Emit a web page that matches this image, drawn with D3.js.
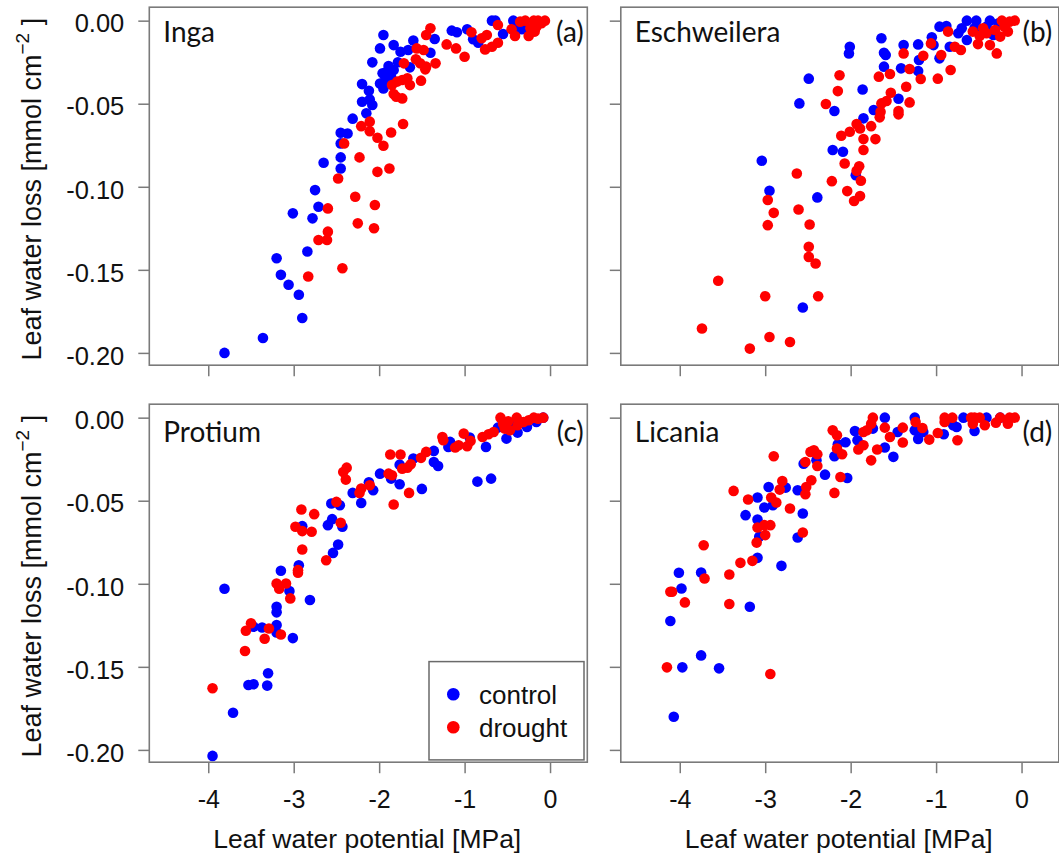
<!DOCTYPE html>
<html>
<head>
<meta charset="utf-8">
<script src="https://cdn.jsdelivr.net/npm/d3@7"></script>
<style>
  body { margin: 0; background: #fff; }
  text { font-family: "Liberation Sans", Arial, sans-serif; fill: #111; }
  .tag { font-family: Lato, "Open Sans", sans-serif; }
</style>
</head>
<body>
<svg id="chart" width="1059" height="860"></svg>
<script>
// Four species, control vs drought
const species = ["Inga", "Eschweilera", "Protium", "Licania"];
const panelTags = ["(a)", "(b)", "(c)", "(d)"];
const groups = ["control", "drought"];
const groupColors = ["#0000ff", "#ff0000"];
const xTicks = [-4, -3, -2, -1, 0];
const xTickLabels = ["-4", "-3", "-2", "-1", "0"];
const yTicks = [0, -0.05, -0.1, -0.15, -0.2];
const yTickLabels = ["0.00", "-0.05", "-0.10", "-0.15", "-0.20"];

// Each point: [leaf water potential (MPa), leaf water loss (mmol cm-2)]
const ingaControl = [
  [-3.81,-0.200],[-3.36,-0.191],[-2.90,-0.179],[-2.94,-0.165],[-3.06,-0.159],[-3.15,-0.153],
  [-3.20,-0.143],[-2.84,-0.139],[-3.01,-0.116],[-2.78,-0.119],[-2.71,-0.112],[-2.75,-0.102],
  [-2.65,-0.0855],[-2.45,-0.089],[-2.45,-0.0823],[-2.45,-0.0739],[-2.45,-0.0675],[-2.37,-0.0679],
  [-2.31,-0.059],[-2.15,-0.0558],[-2.20,-0.0488],[-2.11,-0.0474],[-2.08,-0.0508],[-2.12,-0.0422],
  [-2.20,-0.0382],[-1.99,-0.0378],[-1.95,-0.0408],[-1.96,-0.0317],[-1.91,-0.0307],[-1.89,-0.0273],
  [-1.83,-0.0297],[-2.08,-0.0251],[-1.99,-0.0167],[-1.95,-0.0086],[-1.83,-0.0147],[-1.75,-0.0187],
  [-1.64,-0.0281],[-1.66,-0.0177],[-1.60,-0.0120],[-1.40,-0.0193],[-1.35,-0.0110],[-1.15,-0.0060],
  [-1.09,-0.0070],[-0.97,-0.0052],[-0.90,-0.0112],[-0.84,-0.0133],[-0.68,0.000],[-0.64,0.000],
  [-0.55,-0.0080],[-0.43,0.000],[-0.39,-0.0036],[-0.33,-0.0052],[-0.27,-0.0046],[-1.86,-0.034],
  [-1.78,-0.0250],[-1.93,-0.0360]
];
const ingaDrought = [
  [-2.43,-0.149],[-2.83,-0.154],[-2.71,-0.132],[-2.61,-0.132],[-2.60,-0.127],[-2.60,-0.113],
  [-2.25,-0.122],[-2.06,-0.125],[-2.28,-0.106],[-2.05,-0.111],[-2.48,-0.095],[-2.23,-0.0823],
  [-2.02,-0.091],[-1.88,-0.089],[-2.41,-0.0739],[-2.21,-0.0635],[-2.11,-0.0608],[-2.11,-0.0665],
  [-2.02,-0.0705],[-1.95,-0.0753],[-1.86,-0.0673],[-1.72,-0.0622],[-1.83,-0.0442],[-1.80,-0.0458],
  [-1.73,-0.0468],[-1.85,-0.0388],[-1.79,-0.0367],[-1.73,-0.0357],[-1.67,-0.0347],[-1.64,-0.0388],
  [-1.51,-0.0361],[-1.71,-0.0257],[-1.57,-0.0233],[-1.52,-0.0257],[-1.45,-0.0277],[-1.46,-0.0293],
  [-1.34,-0.0257],[-1.56,-0.0167],[-1.48,-0.0177],[-1.45,-0.0086],[-1.40,-0.0046],[-1.21,-0.0143],
  [-1.10,-0.0167],[-1.00,-0.0217],[-0.92,-0.0070],[-0.80,-0.0106],[-0.74,-0.0086],[-0.76,-0.0173],
  [-0.68,-0.0157],[-0.61,-0.0133],[-0.61,-0.0026],[-0.45,-0.0052],[-0.41,-0.0092],[-0.35,-0.0006],
  [-0.29,0.000],[-0.23,-0.0046],[-0.25,-0.0092],[-0.18,-0.0066],[-0.14,0.000],[-0.06,0.000],
  [-0.16,-0.0036],[-0.19,0.000],[-0.10,-0.0016]
];
const eschweileraControl = [
  [-2.56,-0.1727],[-3.04,-0.0843],[-2.95,-0.1024],[-2.39,-0.1064],[-2.60,-0.0498],[-2.49,-0.0349],
  [-2.19,-0.0544],[-2.21,-0.0779],[-2.09,-0.0789],[-2.01,-0.0157],[-2.02,-0.0197],[-1.86,-0.0414],
  [-1.85,-0.0588],[-1.73,-0.0538],[-1.94,-0.093],[-1.64,-0.0106],[-1.61,-0.0193],[-1.59,-0.0207],
  [-1.61,-0.0277],[-1.44,-0.047],[-1.41,-0.0287],[-1.38,-0.0147],[-1.21,-0.0143],[-1.20,-0.0237],
  [-1.21,-0.0303],[-1.05,-0.0100],[-1.03,-0.0147],[-0.96,-0.0036],[-0.88,-0.0032],[-0.96,-0.0227],
  [-0.84,-0.0157],[-0.74,-0.0076],[-0.64,0.000],[-0.53,0.000],[-0.64,-0.0116],[-0.55,-0.0046],
  [-0.37,0.000],[-0.41,-0.0036],[-0.33,-0.0086],[-0.27,-0.0016],[-0.70,-0.0046]
];
const eschweileraDrought = [
  [-3.18,-0.1974],[-3.74,-0.1853],[-2.95,-0.1904],[-2.71,-0.1934],[-3.55,-0.1566],[-3.00,-0.1659],
  [-2.38,-0.1659],[-2.41,-0.1462],[-2.49,-0.1422],[-2.49,-0.1361],[-2.48,-0.1227],[-2.61,-0.1137],
  [-2.97,-0.1231],[-2.90,-0.1157],[-2.97,-0.108],[-2.63,-0.092],[-2.22,-0.0966],[-2.04,-0.1026],
  [-1.96,-0.1086],[-1.89,-0.1056],[-1.88,-0.0964],[-1.93,-0.0904],[-1.90,-0.0876],[-2.07,-0.086],
  [-1.85,-0.0779],[-1.85,-0.0713],[-1.71,-0.0713],[-2.11,-0.0693],[-2.01,-0.0669],[-1.93,-0.0622],
  [-1.89,-0.0649],[-1.76,-0.0635],[-1.66,-0.0582],[-1.65,-0.0548],[-1.64,-0.0498],[-1.58,-0.0484],
  [-1.53,-0.0434],[-1.44,-0.0544],[-1.44,-0.0564],[-1.31,-0.0492],[-1.35,-0.0398],[-1.67,-0.0337],
  [-1.54,-0.0321],[-2.29,-0.0502],[-2.15,-0.0424],[-2.13,-0.0329],[-1.38,-0.0197],[-1.31,-0.0291],
  [-1.18,-0.0351],[-1.15,-0.0211],[-1.06,-0.0137],[-0.98,-0.0349],[-0.94,-0.0207],[-0.83,-0.0297],
  [-0.86,-0.0066],[-0.78,-0.0157],[-0.71,-0.0177],[-0.57,-0.0066],[-0.51,-0.0141],[-0.41,-0.0076],
  [-0.37,-0.0147],[-0.29,-0.0197],[-0.25,-0.0096],[-0.20,-0.0036],[-0.14,-0.0006],[-0.08,0.000],
  [-0.23,0.000],[-0.31,-0.0056],[-0.45,-0.0046],[-0.16,-0.0066],[-0.49,-0.0092]
];
const protiumControl = [
  [-3.95,-0.2036],[-3.71,-0.1776],[-3.81,-0.1030],[-3.53,-0.1609],[-3.47,-0.1605],[-3.31,-0.1613],
  [-3.30,-0.1539],[-3.47,-0.1259],[-3.37,-0.1263],[-3.20,-0.1248],[-3.20,-0.1293],[-3.01,-0.1327],
  [-3.20,-0.1138],[-3.20,-0.1172],[-3.15,-0.0922],[-3.05,-0.1044],[-2.81,-0.1098],[-2.94,-0.0888],
  [-2.90,-0.0653],[-2.54,-0.0814],[-2.48,-0.0764],[-2.60,-0.0647],[-2.55,-0.0611],[-2.43,-0.0657],
  [-2.56,-0.0517],[-2.46,-0.0527],[-2.31,-0.0453],[-2.21,-0.0513],[-2.12,-0.0389],[-2.07,-0.0437],
  [-1.99,-0.0337],[-1.86,-0.0367],[-1.76,-0.0401],[-1.76,-0.0283],[-1.60,-0.0246],[-1.50,-0.0429],
  [-1.36,-0.0200],[-1.36,-0.0267],[-1.31,-0.0291],[-1.19,-0.0176],[-1.17,-0.0146],[-0.94,-0.0120],
  [-0.85,-0.0385],[-0.69,-0.0367],[-0.75,-0.0176],[-0.61,-0.0060],[-0.51,-0.0126],[-0.38,-0.0090],
  [-0.27,-0.0056],[-0.16,-0.0026],[-0.08,0.000],[-0.43,-0.0036]
];
const protiumDrought = [
  [-3.95,-0.1629],[-3.57,-0.1405],[-3.56,-0.1283],[-3.50,-0.1238],[-3.34,-0.1331],[-3.29,-0.1269],
  [-3.15,-0.1305],[-3.20,-0.0998],[-3.17,-0.1030],[-3.09,-0.0998],[-3.04,-0.1088],[-2.95,-0.0934],
  [-2.95,-0.0918],[-2.90,-0.0794],[-2.98,-0.0657],[-2.90,-0.0683],[-2.79,-0.0687],[-2.91,-0.0553],
  [-2.76,-0.0581],[-2.62,-0.0858],[-2.50,-0.0507],[-2.45,-0.0633],[-2.42,-0.0327],[-2.38,-0.0301],
  [-2.39,-0.0373],[-2.23,-0.0453],[-2.21,-0.0427],[-2.11,-0.0407],[-1.89,-0.0337],[-1.85,-0.0347],
  [-1.83,-0.0523],[-1.87,-0.0222],[-1.75,-0.0222],[-1.73,-0.0307],[-1.67,-0.0301],[-1.63,-0.0281],
  [-1.65,-0.0453],[-1.51,-0.0242],[-1.45,-0.0206],[-1.26,-0.0116],[-1.25,-0.0136],[-1.11,-0.0180],
  [-1.07,-0.0166],[-1.01,-0.0096],[-0.97,-0.0172],[-0.93,-0.0140],[-0.79,-0.0116],[-0.72,-0.0100],
  [-0.66,-0.0086],[-0.58,0.000],[-0.55,-0.0036],[-0.53,-0.0066],[-0.49,-0.0022],[-0.39,0.000],
  [-0.38,-0.0046],[-0.31,-0.0026],[-0.25,-0.0016],[-0.19,0.000],[-0.14,-0.0006],[-0.08,0.000],
  [-0.47,-0.0076]
];
const licaniaControl = [
  [-4.07,-0.180],[-4.11,-0.1224],[-3.97,-0.1503],[-4.01,-0.0934],[-3.98,-0.1028],[-3.75,-0.1431],
  [-3.54,-0.1509],[-3.75,-0.0932],[-3.18,-0.1138],[-2.81,-0.0892],[-3.09,-0.0844],[-3.23,-0.0587],
  [-3.09,-0.0481],[-3.09,-0.0613],[-3.07,-0.0717],[-3.01,-0.0541],[-2.91,-0.0527],[-2.96,-0.0417],
  [-2.76,-0.0421],[-2.62,-0.0437],[-2.62,-0.0721],[-2.56,-0.0577],[-2.55,-0.0277],[-2.40,-0.0257],
  [-2.30,-0.0343],[-2.19,-0.0232],[-2.15,-0.0160],[-2.06,-0.0148],[-2.04,-0.0363],[-1.95,-0.0080],
  [-1.92,-0.0136],[-1.74,-0.0066],[-1.60,0.000],[-1.60,-0.0180],[-1.50,-0.0236],[-1.45,-0.0086],
  [-1.25,0.000],[-1.25,-0.0076],[-1.21,-0.0128],[-1.15,-0.0086],[-0.91,-0.0100],[-0.80,-0.0046],
  [-0.76,-0.0056],[-0.68,0.000],[-0.55,-0.0080],[-0.41,0.000],[-0.25,0.000]
];
const licaniaDrought = [
  [-4.15,-0.1503],[-2.94,-0.1543],[-4.11,-0.1048],[-4.09,-0.1048],[-3.94,-0.1112],[-3.42,-0.1122],
  [-3.71,-0.0968],[-3.72,-0.0768],[-3.42,-0.0944],[-3.29,-0.0874],[-3.15,-0.0862],[-3.10,-0.0752],
  [-3.09,-0.0661],[-3.01,-0.0647],[-2.94,-0.0647],[-3.00,-0.0707],[-3.20,-0.0493],[-3.37,-0.0441],
  [-2.93,-0.0481],[-2.87,-0.0511],[-2.83,-0.0433],[-2.80,-0.0381],[-2.71,-0.0547],[-2.90,-0.0232],
  [-2.56,-0.0691],[-2.53,-0.0461],[-2.52,-0.0417],[-2.46,-0.0377],[-2.53,-0.0267],[-2.47,-0.0206],
  [-2.43,-0.0196],[-2.39,-0.0220],[-2.39,-0.0291],[-2.19,-0.0453],[-2.12,-0.0357],[-2.21,-0.0076],
  [-2.16,-0.0106],[-2.16,-0.0186],[-2.10,-0.0220],[-1.91,-0.0192],[-1.85,-0.0166],[-1.85,-0.0086],
  [-1.81,-0.0076],[-1.76,-0.0036],[-1.74,0.000],[-1.76,-0.0257],[-1.69,-0.0192],[-1.60,-0.0060],
  [-1.54,-0.0116],[-1.39,-0.0060],[-1.39,-0.0150],[-1.24,-0.0026],[-1.16,-0.0062],[-1.08,-0.0132],
  [-0.98,-0.0092],[-0.90,0.000],[-0.90,-0.0026],[-0.81,0.000],[-0.75,-0.0136],[-0.59,0.000],
  [-0.55,0.000],[-0.57,-0.0036],[-0.43,-0.0046],[-0.30,-0.0030],[-0.25,0.000],[-0.16,-0.0036],
  [-0.14,0.000],[-0.08,0.000],[-0.49,0.000]
];

const seriesBySpecies = [
  [ingaControl, ingaDrought],
  [eschweileraControl, eschweileraDrought],
  [protiumControl, protiumDrought],
  [licaniaControl, licaniaDrought]
];

// ---- layout ----
const svg = d3.select("#chart");
const frameColor = "#7a7a7a";
const panelW = 438, panelH = 358;
const colLeft = [149.3, 620.8];
const rowTop = [7.2, 404.2];
const xDomain = [-4.69, 0.436];
const yDomain = [-0.2074, 0.0081];
const pointR = 5.3;

species.forEach((name, i) => {
  const col = i % 2, row = Math.floor(i / 2);
  const x0 = colLeft[col], y0 = rowTop[row];
  const x = d3.scaleLinear().domain(xDomain).range([x0, x0 + panelW]);
  const y = d3.scaleLinear().domain(yDomain).range([y0 + panelH, y0]);
  const g = svg.append("g");

  // x axis ticks (labels only on bottom row)
  const xAxis = g.append("g")
    .attr("transform", `translate(0,${y0 + panelH})`)
    .call(d3.axisBottom(x).tickValues(xTicks).tickSize(11).tickSizeOuter(0)
      .tickFormat((d, k) => xTickLabels[k]));
  xAxis.select(".domain").remove();
  xAxis.selectAll(".tick line").attr("stroke", frameColor).attr("stroke-width", 1.5);
  xAxis.selectAll(".tick text")
    .attr("y", 45.8).attr("dy", null)
    .style("font-size", "25px")
    .style("font-family", '"Liberation Sans", Arial, sans-serif')
    .attr("fill", "#111")
    .attr("display", row === 1 ? null : "none");

  // y axis ticks (labels only on left column)
  const yAxis = g.append("g")
    .attr("transform", `translate(${x0},0)`)
    .call(d3.axisLeft(y).tickValues(yTicks).tickSize(11).tickSizeOuter(0)
      .tickFormat((d, k) => yTickLabels[k]));
  yAxis.select(".domain").remove();
  yAxis.selectAll(".tick line").attr("stroke", frameColor).attr("stroke-width", 1.5);
  yAxis.selectAll(".tick text")
    .attr("x", -25).attr("dy", "0.44em")
    .style("font-size", "25.5px")
    .style("font-family", '"Liberation Sans", Arial, sans-serif')
    .attr("fill", "#111")
    .attr("display", col === 0 ? null : "none");

  // points: control first, drought on top
  seriesBySpecies[i].forEach((pts, s) => {
    g.append("g").selectAll("circle").data(pts).join("circle")
      .attr("cx", d => x(d[0]))
      .attr("cy", d => y(d[1]))
      .attr("r", pointR)
      .attr("fill", groupColors[s]);
  });

  // frame
  g.append("rect")
    .attr("x", x0).attr("y", y0).attr("width", panelW).attr("height", panelH)
    .attr("fill", "none").attr("stroke", frameColor).attr("stroke-width", 1.6);

  // species name and panel tag
  const base = y0 + (row === 0 ? 34.5 : 38.2);
  g.append("text").attr("class", "tag")
    .attr("x", x0 + 14).attr("y", base)
    .style("font-size", "28px").text(name);
  g.append("text").attr("class", "tag")
    .attr("x", x0 + panelW - (col === 0 ? 3.5 : 6.5)).attr("y", base)
    .attr("text-anchor", "end")
    .style("font-size", "28px").text(panelTags[i]);

  // axis titles
  if (col === 0) {
    const t = g.append("text")
      .attr("transform", `translate(41,${y0 + panelH / 2 + 3}) rotate(-90)`)
      .attr("text-anchor", "middle")
      .style("font-size", "27px");
    t.append("tspan").text("Leaf water loss [mmol cm");
    t.append("tspan").attr("dy", -12).style("font-size", "19px").text("\u22122");
    t.append("tspan").attr("dy", 12).text(" ]");
  }
  if (row === 1) {
    g.append("text")
      .attr("x", x0 + panelW / 2 - 1).attr("y", 847.7)
      .attr("text-anchor", "middle")
      .style("font-size", "26.5px")
      .text("Leaf water potential [MPa]");
  }

  // legend in the Protium panel
  if (i === 2) {
    const lx1 = x0 + panelW - 3.3, ly1 = y0 + panelH - 2.3;
    const lg = g.append("g");
    lg.append("rect")
      .attr("x", lx1 - 155).attr("y", ly1 - 98.3)
      .attr("width", 155).attr("height", 98.3)
      .attr("fill", "#fff").attr("stroke", "#6a6a6a").attr("stroke-width", 1.5);
    groups.forEach((lab, s) => {
      const cy = ly1 - 65.7 + s * 33;
      lg.append("circle").attr("cx", lx1 - 130.7).attr("cy", cy)
        .attr("r", 6.3).attr("fill", groupColors[s]);
      lg.append("text").attr("x", lx1 - 105).attr("y", cy + 9.7)
        .style("font-size", "26px").text(lab);
    });
  }
});
</script>
</body>
</html>
